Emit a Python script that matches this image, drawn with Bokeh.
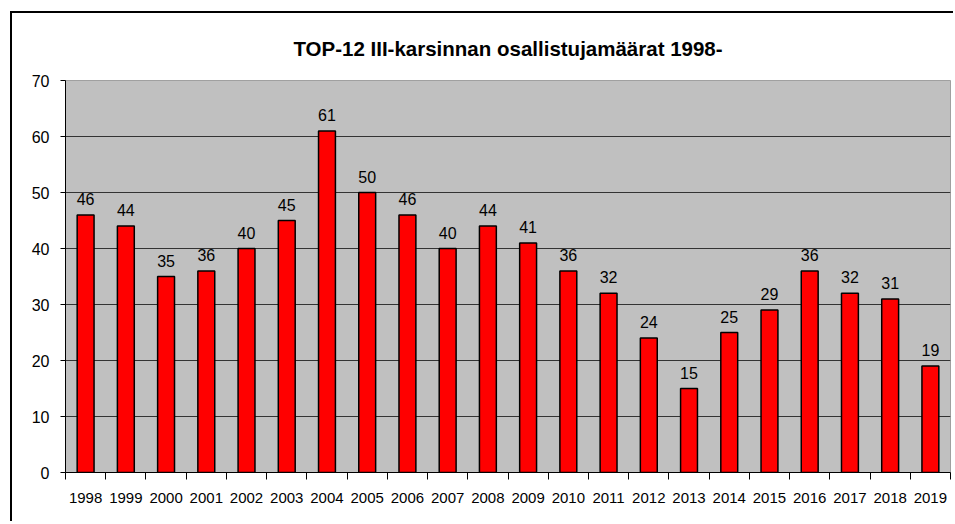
from bokeh.plotting import figure
from bokeh.models import (ColumnDataSource, Range1d, FixedTicker, LabelSet)
from bokeh.core.properties import value
from bokeh.embed import file_html
from bokeh.resources import INLINE

# ---- data ----
years = ["1998", "1999", "2000", "2001", "2002", "2003", "2004", "2005", "2006",
         "2007", "2008", "2009", "2010", "2011", "2012", "2013", "2014", "2015",
         "2016", "2017", "2018", "2019"]
counts = [46, 44, 35, 36, 40, 45, 61, 50, 46, 40, 44, 41, 36, 32, 24, 15, 25,
          29, 36, 32, 31, 19]
y_ticks = [0, 10, 20, 30, 40, 50, 60, 70]
title_text = "TOP-12 III-karsinnan osallistujamäärat 1998-"

pos = list(range(1, len(years) + 1))
src = ColumnDataSource(dict(x=pos, y=counts, lab=[str(c) for c in counts]))

FONT = "Liberation Sans"

p = figure(width=943, height=510, output_backend="svg", toolbar_location=None,
           x_range=Range1d(0.5, len(years) + 0.5), y_range=Range1d(0, 70),
           min_border_left=53, min_border_right=5, min_border_top=66,
           min_border_bottom=51, tools="")
p.margin = (11, 0, 0, 10)
p.styles = {"border-left": "2px solid black", "border-top": "2px solid black"}

p.title.text = title_text
p.title.align = "center"
p.title.text_font = FONT
p.title.text_font_size = "20.5px"
p.title.text_font_style = "bold"
p.title.text_color = "black"
p.title.standoff = 42

p.background_fill_color = "#C0C0C0"
p.border_fill_color = "white"
p.outline_line_color = "#A0A0A0"
p.outline_line_width = 1

p.vbar(x="x", top="y", width=0.42, source=src, fill_color="#FF0000",
       line_color="black", line_width=1.5)

labels = LabelSet(x="x", y="y", text="lab", source=src, text_align="center",
                  text_baseline="alphabetic", y_offset=10,
                  text_font=value(FONT), text_font_size=value("16px"),
                  text_color=value("black"))
p.add_layout(labels)

# x axis
xa = p.xaxis[0]
xa.ticker = FixedTicker(ticks=pos, minor_ticks=[i + 0.5 for i in range(0, len(years) + 1)])
xa.major_label_overrides = {i: y for i, y in zip(pos, years)}
xa.major_tick_out = 0
xa.major_tick_in = 0
xa.minor_tick_out = 7
xa.minor_tick_in = 0
xa.minor_tick_line_color = "black"
xa.axis_line_color = "black"
xa.major_label_text_font = FONT
xa.major_label_text_font_size = "15px"
xa.major_label_text_color = "black"
xa.major_label_standoff = 13

# y axis
ya = p.yaxis[0]
ya.ticker = FixedTicker(ticks=y_ticks)
ya.major_tick_out = 5
ya.major_tick_in = 0
ya.minor_tick_out = 0
ya.minor_tick_in = 0
ya.axis_line_color = "black"
ya.major_tick_line_color = "black"
ya.major_label_text_font = FONT
ya.major_label_text_font_size = "16px"
ya.major_label_text_color = "black"
ya.major_label_standoff = 11

p.xgrid.visible = False
p.ygrid.grid_line_color = "#333333"
p.ygrid.grid_line_width = 1

open("out.html", "w").write(file_html(p, INLINE))
